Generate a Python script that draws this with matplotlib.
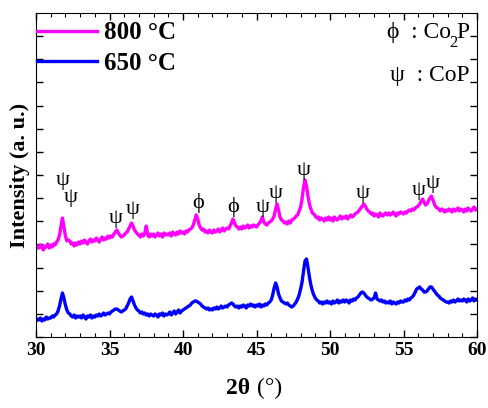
import numpy as np
import matplotlib
matplotlib.use("Agg")
import matplotlib.pyplot as plt
from matplotlib.ticker import MultipleLocator
from matplotlib.transforms import IdentityTransform

plt.rcParams['font.family'] = ['Liberation Serif', 'DejaVu Serif']

# 2theta grid 30.0 .. 60.0, step 0.1
two_theta = np.round(np.arange(300, 601) / 10.0, 1)

int_800 = [
    88, 91, 89, 92, 90, 87, 91, 90, 93, 89,
    92, 90, 93, 92, 95, 97, 102, 111, 119, 110,
    101, 96, 97, 96, 93, 94, 91, 94, 92, 95,
    93, 96, 94, 97, 95, 93, 96, 98, 95, 97,
    96, 99, 97, 95, 98, 100, 97, 99, 98, 101,
    99, 101, 100, 103, 105, 107, 104, 102, 100, 101,
    102, 104, 105, 108, 111, 114, 111, 107, 105, 103,
    102, 100, 103, 101, 104, 111, 102, 100, 103, 101,
    103, 100, 102, 104, 101, 103, 100, 104, 102, 103,
    102, 104, 101, 105, 103, 102, 105, 103, 106, 104,
    105, 103, 106, 105, 107, 108, 109, 112, 117, 122,
    118, 112, 109, 107, 108, 105, 106, 104, 107, 105,
    104, 107, 105, 106, 108, 105, 107, 109, 106, 108,
    109, 108, 111, 114, 118, 114, 111, 110, 108, 110,
    108, 111, 109, 110, 112, 109, 111, 110, 112, 111,
    110, 112, 114, 116, 120, 115, 113, 112, 114, 115,
    116, 118, 121, 128, 133, 127, 120, 117, 116, 114,
    115, 113, 116, 114, 117, 118, 119, 121, 122, 126,
    130, 138, 150, 157, 151, 141, 133, 128, 124, 123,
    121, 119, 120, 117, 119, 118, 116, 119, 117, 120,
    117, 119, 116, 120, 118, 117, 119, 121, 118, 120,
    119, 121, 118, 120, 122, 120, 121, 123, 124, 125,
    127, 129, 131, 133, 131, 128, 126, 125, 123, 124,
    121, 123, 122, 120, 124, 122, 121, 123, 124, 122,
    124, 122, 123, 125, 123, 121, 124, 123, 125, 124,
    123, 125, 124, 126, 127, 126, 128, 127, 129, 130,
    131, 133, 136, 138, 135, 132, 133, 136, 139, 141,
    137, 133, 130, 129, 128, 126, 128, 127, 125, 127,
    126, 128, 127, 125, 128, 126, 127, 129, 126, 128,
    127, 125, 128, 126, 129, 127, 126, 128, 130, 127,
    128,
]

int_650 = [
    16, 18, 17, 19, 16, 18, 17, 20, 18, 19,
    19, 21, 20, 22, 23, 26, 31, 38, 44, 39,
    32, 27, 24, 23, 21, 20, 22, 19, 21, 20,
    21, 19, 22, 20, 18, 21, 20, 22, 19, 21,
    20, 22, 21, 23, 21, 22, 24, 22, 23, 24,
    23, 25, 26, 27, 28, 28, 27, 26, 25, 26,
    27, 28, 31, 34, 38, 40, 36, 32, 29, 27,
    26, 24, 25, 23, 24, 22, 23, 21, 23, 22,
    21, 23, 22, 20, 23, 22, 24, 21, 23, 22,
    23, 25, 22, 24, 26, 23, 25, 27, 24, 26,
    27, 28, 29, 30, 31, 32, 34, 35, 36, 36,
    35, 34, 33, 31, 30, 29, 28, 29, 27, 28,
    27, 29, 28, 30, 28, 29, 31, 29, 30, 31,
    30, 32, 33, 34, 33, 31, 30, 31, 29, 31,
    30, 32, 31, 29, 32, 31, 33, 31, 32, 30,
    32, 31, 33, 30, 32, 31, 33, 32, 34, 35,
    37, 42, 49, 54, 50, 43, 39, 36, 35, 34,
    33, 34, 32, 31, 30, 31, 33, 35, 38, 42,
    48, 55, 66, 76, 78, 70, 60, 52, 46, 42,
    39, 37, 36, 34, 35, 33, 35, 34, 36, 34,
    35, 33, 36, 34, 35, 37, 34, 36, 35, 37,
    35, 37, 36, 34, 37, 36, 38, 37, 39, 40,
    42, 44, 45, 44, 42, 40, 39, 38, 37, 38,
    39, 44, 38, 37, 36, 37, 35, 36, 34, 35,
    34, 36, 33, 35, 34, 33, 35, 34, 36, 35,
    35, 37, 36, 38, 37, 39, 40, 42, 45, 48,
    49, 50, 48, 47, 45, 45, 46, 48, 50, 50,
    48, 46, 44, 42, 41, 39, 38, 37, 36, 35,
    35, 34, 36, 35, 37, 35, 36, 38, 36, 37,
    36, 38, 37, 35, 38, 36, 37, 39, 36, 38,
    37,
]

series_labels = ["800 \u00b0C", "650 \u00b0C"]

PSI = "\u03c8"
PHI = "\u03d5"

# peak markers: (2theta, intensity, symbol)
mark_x = [31.84, 32.35, 35.4, 36.6, 41.0, 43.4, 45.4, 46.3, 48.2, 52.2, 56.05, 57.0]
mark_y = [157, 140, 119, 128, 134, 130, 130, 144, 167, 144, 147, 154]
mark_s = [PSI, PSI, PSI, PSI, PHI, PHI, PSI, PSI, PSI, PSI, PSI, PSI]

fig = plt.figure(figsize=(4.88, 4.08), dpi=100)
ax = fig.add_axes([36/488, (408-337)/408, (477-36)/488, (337-13)/408])

ax.plot(two_theta, int_800, color='#ff00ff', lw=2.4, label=series_labels[0])
ax.plot(two_theta, int_650, color='#0000ff', lw=2.4, label=series_labels[1])

for xv, yv, s in zip(mark_x, mark_y, mark_s):
    ax.text(xv, yv, s, ha='center', va='center', fontsize=16, color='black')

ax.set_xlim(30, 60)
ax.set_ylim(0, 324)
ax.xaxis.set_major_locator(MultipleLocator(5))
ax.xaxis.set_minor_locator(MultipleLocator(1))
ax.yaxis.set_major_locator(MultipleLocator(23.15))
ax.tick_params(axis='both', which='both', direction='in', top=True, right=True)
ax.tick_params(axis='both', which='major', length=5, width=1)
ax.tick_params(axis='both', which='minor', length=3, width=0.8)
ax.tick_params(axis='y', labelleft=False)
for lab in ax.get_xticklabels():
    lab.set_fontweight('bold')
    lab.set_fontsize(14)

ax.text(0.5, -0.125, "2\u03b8 ", transform=ax.transAxes, ha='right', va='top',
        fontsize=17, fontweight='bold')
ax.text(0.5, -0.125, "(\u00b0)", transform=ax.transAxes, ha='left', va='top',
        fontsize=17)
ax.set_ylabel("Intensity (a. u.)", fontsize=16, fontweight='bold', labelpad=4)

leg = ax.legend(loc='upper left', bbox_to_anchor=(0.0, 1 - 7/324), frameon=False,
                prop={'weight': 'bold', 'size': 18},
                handlelength=2.4, handletextpad=0.25, labelspacing=0.3,
                borderaxespad=0.0, borderpad=0.05)

# phase key (top right), with a real subscript for Co2P
fig.canvas.draw()
renderer = fig.canvas.get_renderer()
ident = IdentityTransform()
bx, by = ax.transAxes.transform((0.984, (337 - 38) / 324))
tP = ax.text(bx, by, "P", transform=ident, ha='right', va='baseline', fontsize=17)
bbP = tP.get_window_extent(renderer)
t2 = ax.text(bbP.x0 + 1, by - 9, "2", transform=ident, ha='right', va='baseline', fontsize=12)
bb2 = t2.get_window_extent(renderer)
ax.text(bb2.x0 + 1, by, PHI + "  : Co", transform=ident, ha='right', va='baseline', fontsize=17)

ax.text(0.984, (337 - 81) / 324, PSI + "  : CoP", transform=ax.transAxes, ha='right',
        va='baseline', fontsize=17)

fig.savefig("out.png", dpi=100)
